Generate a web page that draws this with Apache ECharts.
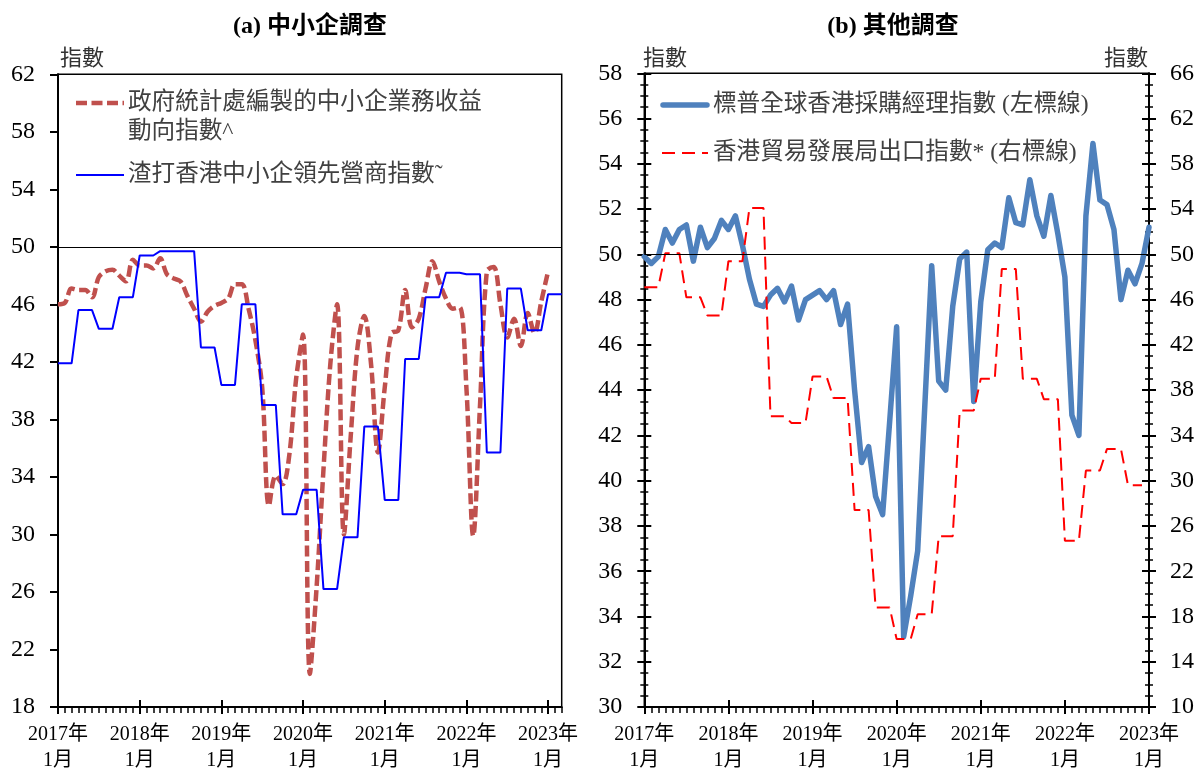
<!DOCTYPE html>
<html>
<head>
<meta charset="utf-8">
<script src="https://cdn.jsdelivr.net/npm/echarts@6/dist/echarts.min.js"></script>
<style>
  html, body { margin: 0; padding: 0; background: #fff; }
  #chart { width: 1200px; height: 774px; }
</style>
</head>
<body>
<div id="chart"></div>
<script>
// ---- Data ----
// Monthly categories: panel (a) runs Jan 2017 – Mar 2023, panel (b) Jan 2017 – Jan 2023
const monthsA = [];
for (let i = 0; i < 75; i++) {
  const yr = 2017 + Math.floor(i / 12);
  const mo = (i % 12) + 1;
  monthsA.push(yr + '-' + String(mo).padStart(2, '0'));
}
const monthsB = monthsA.slice(0, 73);

const yearTickLabels = ['2017年\n1月', '2018年\n1月', '2019年\n1月', '2020年\n1月',
                        '2021年\n1月', '2022年\n1月', '2023年\n1月'];

// (a) Census & Statistics Dept SME business receipts index (monthly)
const csdSmeReceipts = [
  46.0, 46.1, 47.1, 47.0, 47.0, 46.5, 47.9, 48.3, 48.4, 48.0, 47.6, 49.1,
  48.7, 48.7, 48.5, 49.2, 48.1, 47.8, 47.6, 46.6, 45.7, 44.8, 45.5, 45.9,
  46.1, 46.4, 47.4, 47.4, 45.7, 43.5, 40.2, 32.0, 34.1, 33.5, 35.6, 40.9,
  43.9, 20.3, 26.4, 34.5, 41.8, 46.0, 30.0, 36.8, 43.0, 45.2, 41.8, 35.7,
  40.2, 44.0, 44.2, 47.0, 44.4, 45.0, 47.1, 49.0, 47.6, 46.4, 45.7, 45.8,
  40.2, 29.9, 39.0, 48.3, 48.6, 46.0, 43.7, 45.0, 43.1, 45.4, 44.0, 46.2,
  48.3
];

// (a) Standard Chartered Hong Kong SME Leading Business Index (quarterly, held per month)
const scSmeIndex = [
  41.9, 41.9, 41.9, 45.6, 45.6, 45.6, 44.3, 44.3, 44.3, 46.5, 46.5, 46.5,
  49.4, 49.4, 49.4, 49.7, 49.7, 49.7, 49.7, 49.7, 49.7, 43.0, 43.0, 43.0,
  40.4, 40.4, 40.4, 46.0, 46.0, 46.0, 39.0, 39.0, 39.0, 31.4, 31.4, 31.4,
  33.1, 33.1, 33.1, 26.2, 26.2, 26.2, 29.8, 29.8, 29.8, 37.5, 37.5, 37.5,
  32.4, 32.4, 32.4, 42.2, 42.2, 42.2, 46.5, 46.5, 46.5, 48.2, 48.2, 48.2,
  48.1, 48.1, 48.1, 35.7, 35.7, 35.7, 47.1, 47.1, 47.1, 44.2, 44.2, 44.2,
  46.7, 46.7, 46.7
];

// (b) S&P Global Hong Kong PMI (left scale)
const hkPmi = [
  49.9, 49.6, 49.9, 51.1, 50.5, 51.1, 51.3, 49.7, 51.2, 50.3, 50.7, 51.5,
  51.1, 51.7, 50.4, 48.9, 47.8, 47.7, 48.2, 48.5, 47.9, 48.6, 47.1, 48.0,
  48.2, 48.4, 48.0, 48.4, 46.9, 47.8, 44.0, 40.8, 41.5, 39.3, 38.5, 42.6,
  46.8, 33.1, 34.9, 36.9, 43.2, 49.5, 44.4, 44.0, 47.7, 49.8, 50.1, 43.5,
  47.9, 50.2, 50.5, 50.3, 52.5, 51.4, 51.3, 53.3, 51.7, 50.8, 52.6, 50.9,
  49.0, 42.9, 42.0, 51.7, 54.9, 52.4, 52.2, 51.1, 48.0, 49.3, 48.7, 49.6,
  51.2
];

// (b) HKTDC Export Index (right scale, quarterly, held per month)
const tdcExportIndex = [
  47.1, 47.1, 47.1, 50.1, 50.1, 50.1, 46.2, 46.2, 46.2, 44.6, 44.6, 44.6,
  49.4, 49.4, 49.4, 54.1, 54.1, 54.1, 35.7, 35.7, 35.7, 35.1, 35.1, 35.1,
  39.2, 39.2, 39.2, 37.3, 37.3, 37.3, 27.4, 27.4, 27.4, 18.8, 18.8, 18.8,
  16.0, 16.0, 16.0, 18.2, 18.2, 18.2, 25.1, 25.1, 25.1, 36.2, 36.2, 36.2,
  39.0, 39.0, 39.0, 48.7, 48.7, 48.7, 39.0, 39.0, 39.0, 37.2, 37.2, 37.2,
  24.7, 24.7, 24.7, 30.9, 30.9, 30.9, 32.8, 32.8, 32.8, 29.6, 29.6, 29.6
];

// ---- Styling ----
const FONT = "'Liberation Serif', 'Noto Sans CJK TC', serif";
const CJK = "'Noto Sans CJK TC', 'Liberation Serif', sans-serif";
const AXIS_COLOR = '#000';
const isYearStart = (i) => i % 12 === 0;

function monthAxes(gridIndex, cats) {
  return [
    { // yearly ticks (outside) + labels + axis line
      type: 'category', gridIndex, position: 'bottom', data: cats, boundaryGap: false,
      axisLine: { show: true, onZero: false, lineStyle: { color: AXIS_COLOR, width: 2 } },
      axisTick: { show: true, interval: isYearStart, length: 7, lineStyle: { color: AXIS_COLOR, width: 2 } },
      axisLabel: {
        show: true, interval: isYearStart, margin: 15,
        formatter: (v, i) => (i % 12 === 0 ? yearTickLabels[i / 12] : ''),
        fontFamily: FONT, fontSize: 20, lineHeight: 26, color: '#000'
      },
      splitLine: { show: false }
    },
    { // monthly minor ticks
      type: 'category', gridIndex, position: 'bottom', data: cats, boundaryGap: false,
      axisLine: { show: false, onZero: false },
      axisTick: { show: true, interval: 0, length: 6, lineStyle: { color: AXIS_COLOR, width: 1.5 } },
      axisLabel: { show: false }, splitLine: { show: false }
    },
    { // yearly ticks (inside half)
      type: 'category', gridIndex, position: 'bottom', data: cats, boundaryGap: false,
      axisLine: { show: false, onZero: false },
      axisTick: { show: true, inside: true, interval: isYearStart, length: 7, lineStyle: { color: AXIS_COLOR, width: 2 } },
      axisLabel: { show: false }, splitLine: { show: false }
    }
  ];
}

function valueAxis(opts) {
  const base = {
    type: 'value', splitLine: { show: false },
    axisLine: { show: true, onZero: false, lineStyle: { color: AXIS_COLOR, width: 2 } },
    axisTick: { show: true, length: 7, lineStyle: { color: AXIS_COLOR, width: 2 } },
    axisLabel: { show: true, fontFamily: FONT, fontSize: 24, color: '#000', margin: 22,
                 showMinLabel: true, showMaxLabel: true }
  };
  return Object.assign(base, opts);
}

const refLine = {
  silent: true, symbol: ['none', 'none'], label: { show: false },
  lineStyle: { color: '#000', width: 1.2, type: 'solid' },
  emphasis: { disabled: true },
  data: [{ yAxis: 50 }]
};

const LEGEND_FONT = '23.6px ' + FONT;

const chart = echarts.init(document.getElementById('chart'), null, { renderer: 'canvas' });

chart.setOption({
  animation: false,
  backgroundColor: '#fff',
  grid: [
    { left: 58, top: 74.3, width: 503.7, height: 637.4, show: true, borderColor: '#000', borderWidth: 1.5, backgroundColor: 'transparent' },
    { left: 644.3, top: 73.3, width: 504.7, height: 638.4, show: true, borderColor: '#000', borderWidth: 1.5, backgroundColor: 'transparent' }
  ],
  xAxis: [].concat(monthAxes(0, monthsA), monthAxes(1, monthsB)),
  yAxis: [
    // (a) index scale
    valueAxis({ gridIndex: 0, position: 'left', min: 18, max: 62, interval: 4,
                axisTick: { show: true, length: 8, lineStyle: { color: AXIS_COLOR, width: 2 } },
                axisLabel: { show: true, fontFamily: FONT, fontSize: 24, color: '#000', margin: 23, showMinLabel: true, showMaxLabel: true } }),
    // (b) left scale, outside ticks + labels
    valueAxis({ gridIndex: 1, position: 'left', min: 30, max: 58, interval: 2,
                minorTick: { show: true, splitNumber: 4, length: 4, lineStyle: { color: AXIS_COLOR, width: 1.5 } } }),
    // (b) left scale, inside ticks
    valueAxis({ gridIndex: 1, position: 'left', min: 30, max: 58, interval: 2,
                axisLine: { show: false, onZero: false },
                axisTick: { show: true, inside: true, length: 7, lineStyle: { color: AXIS_COLOR, width: 2 } },
                minorTick: { show: true, splitNumber: 4, length: 4, lineStyle: { color: AXIS_COLOR, width: 1.5 } },
                axisLabel: { show: false } }),
    // (b) right scale, outside ticks + labels
    valueAxis({ gridIndex: 1, position: 'right', min: 10, max: 66, interval: 4,
                minorTick: { show: true, splitNumber: 4, length: 4, lineStyle: { color: AXIS_COLOR, width: 1.5 } },
                axisLabel: { show: true, fontFamily: FONT, fontSize: 24, color: '#000', margin: 21, showMinLabel: true, showMaxLabel: true } }),
    // (b) right scale, inside ticks
    valueAxis({ gridIndex: 1, position: 'right', min: 10, max: 66, interval: 4,
                axisLine: { show: false, onZero: false },
                axisTick: { show: true, inside: true, length: 7, lineStyle: { color: AXIS_COLOR, width: 2 } },
                minorTick: { show: true, splitNumber: 4, length: 4, lineStyle: { color: AXIS_COLOR, width: 1.5 } },
                axisLabel: { show: false } })
  ],
  series: [
    {
      name: '政府統計處編製的中小企業務收益動向指數^',
      type: 'line', xAxisIndex: 0, yAxisIndex: 0, data: csdSmeReceipts,
      smooth: 0.35, showSymbol: false, symbol: 'none',
      lineStyle: { color: '#C0504D', width: 4.5, type: [11, 4.5], cap: 'butt', join: 'round' },
      z: 3
    },
    {
      name: '渣打香港中小企領先營商指數˜',
      type: 'line', xAxisIndex: 0, yAxisIndex: 0, data: scSmeIndex,
      showSymbol: false, symbol: 'none',
      lineStyle: { color: '#0000FF', width: 2 },
      markLine: refLine, z: 4
    },
    {
      name: '標普全球香港採購經理指數 (左標線)',
      type: 'line', xAxisIndex: 3, yAxisIndex: 1, data: hkPmi,
      showSymbol: false, symbol: 'none',
      lineStyle: { color: '#4F81BD', width: 5.5, join: 'round', cap: 'round' },
      markLine: refLine, z: 3
    },
    {
      name: '香港貿易發展局出口指數* (右標線)',
      type: 'line', xAxisIndex: 3, yAxisIndex: 3, data: tdcExportIndex,
      showSymbol: false, symbol: 'none',
      lineStyle: { color: '#FF0000', width: 2, type: [13, 7] },
      z: 4
    }
  ],
  graphic: [
    // panel titles
    { type: 'text', x: 310, y: 27, style: { text: '(a) 中小企調查', font: 'bold 24px ' + FONT, fill: '#000', align: 'center', verticalAlign: 'middle' } },
    { type: 'text', x: 893, y: 27, style: { text: '(b) 其他調查', font: 'bold 24px ' + FONT, fill: '#000', align: 'center', verticalAlign: 'middle' } },
    // axis names
    { type: 'text', x: 60, y: 57, style: { text: '指數', font: '22px ' + CJK, fill: '#333', align: 'left', verticalAlign: 'middle' } },
    { type: 'text', x: 643, y: 57, style: { text: '指數', font: '22px ' + CJK, fill: '#333', align: 'left', verticalAlign: 'middle' } },
    { type: 'text', x: 1148, y: 57, style: { text: '指數', font: '22px ' + CJK, fill: '#333', align: 'right', verticalAlign: 'middle' } },
    // legend (a)
    { type: 'line', shape: { x1: 76, y1: 103, x2: 124, y2: 103 }, style: { stroke: '#C0504D', lineWidth: 4.5, lineDash: [11, 4.5] } },
    { type: 'text', x: 128, y: 88.7, style: { text: '政府統計處編製的中小企業務收益\n動向指數^', font: LEGEND_FONT, fill: '#404040', align: 'left', verticalAlign: 'top', lineHeight: 28.5 } },
    { type: 'line', shape: { x1: 76, y1: 175, x2: 124, y2: 175 }, style: { stroke: '#0000FF', lineWidth: 2 } },
    { type: 'text', x: 128, y: 175, style: { text: '渣打香港中小企領先營商指數˜', font: LEGEND_FONT, fill: '#404040', align: 'left', verticalAlign: 'middle' } },
    // legend (b)
    { type: 'line', shape: { x1: 663, y1: 105, x2: 707, y2: 105 }, style: { stroke: '#4F81BD', lineWidth: 5.5, lineCap: 'round' } },
    { type: 'text', x: 713, y: 105, style: { text: '標普全球香港採購經理指數 (左標線)', font: LEGEND_FONT, fill: '#404040', align: 'left', verticalAlign: 'middle' } },
    { type: 'line', shape: { x1: 662, y1: 153, x2: 708, y2: 153 }, style: { stroke: '#FF0000', lineWidth: 2, lineDash: [13, 7] } },
    { type: 'text', x: 713, y: 153, style: { text: '香港貿易發展局出口指數* (右標線)', font: LEGEND_FONT, fill: '#404040', align: 'left', verticalAlign: 'middle' } }
  ]
});
</script>
</body>
</html>
